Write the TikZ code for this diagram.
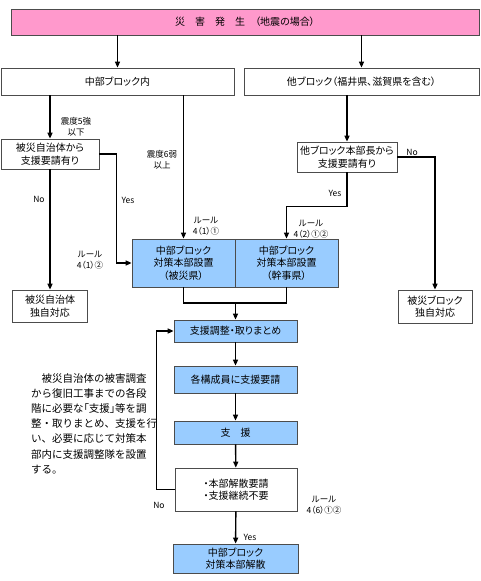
\documentclass[tikz,border=0pt]{standalone}
\usepackage{fontspec}
\setmainfont{Noto Sans CJK JP}
\newfontfamily\propfont[RawFeature=+palt]{Noto Sans CJK JP}
\usetikzlibrary{arrows.meta,positioning,calc}

\definecolor{alertpink}{HTML}{FF99CC}
\definecolor{hqblue}{HTML}{99CCFF}

\tikzset{
  flowbox/.style={draw=black!70, line width=0.7pt, inner sep=1pt, align=center,
    font=\propfont\fontsize{10}{12.5}\selectfont},
  bluebox/.style={flowbox, fill=hqblue},
  pinkbox/.style={flowbox, fill=alertpink},
  link/.style={line width=1.4pt, -{Triangle[length=6pt,width=5pt]}},
  joint/.style={line width=1.4pt},
  tag/.style={font=\propfont\fontsize{8.5}{11}\selectfont, align=center, inner sep=0pt},
}

\begin{document}
\begin{tikzpicture}[x=1pt,y=-1pt]
        \useasboundingbox (0,0) rectangle (480,581);
        % boxes
        \node[pinkbox, minimum width=468pt, minimum height=26pt] (quake) at (245,22) {災　害　発　生　（地震の場合）};
        \node[flowbox, minimum width=233pt, minimum height=27pt] (inner) at (117.5,81.5) {中部ブロック内};
        \node[flowbox, minimum width=235pt, minimum height=27pt] (other) at (361.5,81.5) {他ブロック（福井県、滋賀県を含む）};
        \node[flowbox, minimum width=98pt, minimum height=30pt] (reqA) at (50,154) {被災自治体から\\支援要請有り};
        \node[flowbox, minimum width=100pt, minimum height=30pt] (reqB) at (347,157) {他ブロック本部長から\\支援要請有り};
        \node[bluebox, minimum width=103pt, minimum height=48pt] (hqA) at (183.5,263) {中部ブロック\\対策本部設置\\（被災県）};
        \node[bluebox, minimum width=103pt, minimum height=48pt] (hqB) at (286.5,263) {中部ブロック\\対策本部設置\\（幹事県）};
        \node[flowbox, minimum width=75pt, minimum height=32pt] (selfA) at (50,306) {被災自治体\\独自対応};
        \node[flowbox, minimum width=74pt, minimum height=33pt] (selfB) at (435,306.5) {被災ブロック\\独自対応};
        \node[bluebox, minimum width=123pt, minimum height=22pt] (coord) at (235.5,331) {支援調整・取りまとめ};
        \node[bluebox, minimum width=123pt, minimum height=27pt] (ask) at (235.5,379.5) {各構成員に支援要請};
        \node[bluebox, minimum width=123pt, minimum height=23pt] (aid) at (235.5,432.5) {支　援};
        \node[flowbox, minimum width=122pt, minimum height=43pt] (check) at (236,489.5) {・本部解散要請\\・支援継続不要};
        \node[bluebox, minimum width=125pt, minimum height=29pt] (close) at (235.5,558.5) {中部ブロック\\対策本部解散};
        \node[anchor=north west, align=left, inner sep=0pt,
          font=\fontsize{10.5}{15.2}\selectfont] (note) at (31,373)
          {　被災自治体の被害調査\\から復旧工事までの各段\\階に必要な{\propfont 「支援」}等を調\\整・取りまとめ、支援を行\\い、必要に応じて対策本\\部内に支援調整隊を設置\\する。};
        % labels
        \node[tag] (lowA) at (76,127) {震度5強\\以下};
        \node[tag] (highA) at (162,160) {震度6弱\\以上};
        \node[tag] (noA) at (39,199) {No};
        \node[tag] (yesA) at (128,200) {Yes};
        \node[tag] (ruleA) at (206,226) {ルール\\4（1）①};
        \node[tag] (ruleB) at (90,260) {ルール\\4（1）②};
        \node[tag] (yesB) at (335,193) {Yes};
        \node[tag] (noB) at (412,152) {No};
        \node[tag] (ruleC) at (311,229) {ルール\\4（2）①②};
        \node[tag] (noC) at (159,505) {No};
        \node[tag] (yesC) at (250,537) {Yes};
        \node[tag] (ruleD) at (324,505) {ルール\\4（6）①②};
        % connectors
        \coordinate (join) at (235.5,303);
        \draw[link] (inner.north |- quake.south) -- (inner.north);
        \draw[link] (other.north |- quake.south) -- (other.north);
        \draw[link] (reqA.north |- inner.south) -- (reqA.north);
        \draw[link] (hqA.north |- inner.south) -- (hqA.north);
        \draw[link] (reqA.south) -- (selfA.north);
        \draw[link] (reqA.east) -- ++(17,0) |- (hqA.west);
        \draw[link] (reqB.north |- other.south) -- (reqB.north);
        \draw[link] (reqB.east) -| (selfB.north);
        \draw[link] (reqB.south) -- ++(0,34) -| (hqB.north);
        \draw[joint] (hqA.south) |- (join) -| (hqB.south);
        \draw[link] (join) -- (coord.north);
        \draw[link] (coord) -- (ask);
        \draw[link] (ask) -- (aid);
        \draw[link] (aid) -- (check);
        \draw[link] (check) -- (close);
        \draw[link] (check.west) -- ++(-18,0) |- (coord.west);
\end{tikzpicture}
\end{document}
